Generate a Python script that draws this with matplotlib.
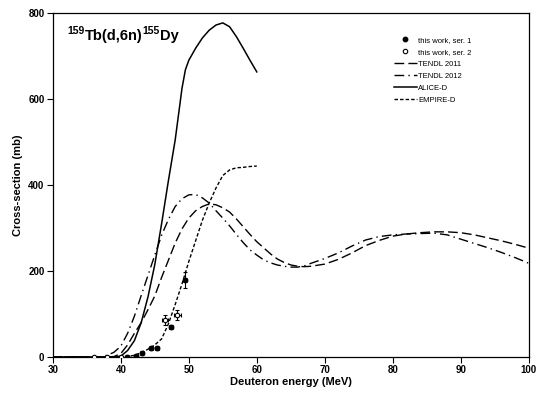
import matplotlib
matplotlib.use("Agg")
import matplotlib.pyplot as plt
from matplotlib.lines import Line2D
from matplotlib.transforms import offset_copy
import numpy as np

plt.rcParams['font.family'] = ['Liberation Sans', 'DejaVu Sans']
plt.rcParams['font.weight'] = 'bold'

# Experimental data
ser1_E = [40.9, 42.2, 43.1, 44.5, 45.3, 47.35, 49.4]
ser1_s = [0.5, 3, 10, 20, 20, 70, 179]
ser1_dE = [0.3, 0.3, 0.3, 0.3, 0.3, 0.3, 0.3]
ser1_ds = [1, 1, 2, 3, 3, 5, 19]

ser2_E = [36.0, 38.0, 40.0, 46.5, 48.3]
ser2_s = [0, 0, 0, 86, 98]
ser2_dE = [0, 0, 0, 0.5, 0.5]
ser2_ds = [0, 0, 0, 11, 12]

# Model curves
t11_E = [30, 38, 39, 40, 41, 42, 43, 44, 45, 46, 47, 48, 49, 50, 51, 52, 53, 54, 55, 56, 57, 58, 59, 60,
         61, 62, 63, 64, 65, 66, 67, 68, 70, 72, 74, 76, 78, 80, 82, 84, 86, 88, 90, 92, 94, 96, 98, 100]
t11_s = [0, 0, 1, 8, 28, 55, 80, 110, 142, 185, 225, 265, 298, 323, 340, 350, 356, 354, 347, 337, 321, 303,
         285, 268, 254, 240, 228, 220, 214, 211, 210, 211, 216, 227, 242, 259, 271, 281, 286, 289, 291, 291,
         289, 284, 277, 270, 262, 253]

t12_E = [30, 37, 38, 39, 40, 41, 42, 43, 44, 45, 46, 47, 48, 49, 50, 51, 52, 53, 54, 55, 56, 57, 58, 59, 60,
         61, 62, 63, 64, 65, 66, 67, 68, 70, 72, 74, 76, 78, 80, 82, 84, 86, 88, 90, 92, 94, 96, 98, 100]
t12_s = [0, 0, 4, 11, 25, 55, 95, 143, 190, 237, 283, 320, 350, 368, 377, 378, 370, 358, 340, 323, 305, 285,
         266, 249, 237, 226, 219, 214, 211, 209, 209, 212, 218, 229, 242, 258, 272, 280, 284, 286, 287, 288,
         284, 274, 264, 254, 243, 231, 218]

alice_E = [30, 38, 39, 40, 41, 42, 43, 44, 45, 46, 47, 48, 49, 49.5, 50, 51, 52, 53, 54, 55, 56, 57, 58, 59, 60]
alice_s = [0, 0, 0, 2, 15, 38, 80, 140, 215, 310, 410, 505, 625, 668, 690, 718, 742, 760, 772, 777, 768,
           745, 718, 690, 663]

empire_E = [30, 40, 41, 42, 43, 44, 45, 46, 47, 48, 49, 50, 51, 52, 53, 54, 55, 56, 57, 58, 59, 60]
empire_s = [0, 0, 1, 4, 10, 18, 28, 42, 77, 122, 170, 222, 270, 318, 358, 393, 422, 435, 440, 441, 443, 444]

title_parts = [('159', True), ('Tb(d,6n)', False), ('155', True), ('Dy', False)]

fig = plt.figure(figsize=(5.39, 3.94), dpi=100)
ax = fig.add_axes([0.098, 0.094, 0.883, 0.873])

lw = 1.0
l11, = ax.plot(t11_E, t11_s, color='black', lw=lw, dashes=(7, 3), zorder=2)
l12, = ax.plot(t12_E, t12_s, color='black', lw=lw, dashes=(7, 3, 1, 3), zorder=2)
la, = ax.plot(alice_E, alice_s, color='black', lw=1.1, ls='-', zorder=2)
le, = ax.plot(empire_E, empire_s, color='black', lw=lw, dashes=(2.5, 1.5), zorder=2)

ax.errorbar(ser1_E, ser1_s, xerr=ser1_dE, yerr=ser1_ds, fmt='o', color='black', ms=3.2,
            mfc='black', mec='black', elinewidth=0.8, capsize=1.5, capthick=0.8, zorder=4)
ax.errorbar(ser2_E, ser2_s, xerr=ser2_dE, yerr=ser2_ds, fmt='o', color='black', ms=3.2,
            mfc='white', mec='black', mew=0.8, elinewidth=0.8, capsize=1.5, capthick=0.8, zorder=4)

ax.set_xlim(30, 100)
ax.set_ylim(0, 800)
ax.set_xticks([30, 40, 50, 60, 70, 80, 90, 100])
ax.set_yticks([0, 200, 400, 600, 800])
ax.tick_params(axis='both', direction='out', length=4, width=0.8, labelsize=7, pad=2)
for lab in ax.get_xticklabels() + ax.get_yticklabels():
    lab.set_fontweight('bold')
for sp in ax.spines.values():
    sp.set_linewidth(0.9)

ax.set_xlabel('Deuteron energy (MeV)', fontsize=8, fontweight='bold', labelpad=1)
ax.set_ylabel('Cross-section (mb)', fontsize=8, fontweight='bold', labelpad=4)

# Title with superscripts composed piece by piece
renderer = fig.canvas.get_renderer()
x0, y0 = 0.031, 0.922
dx = 0.0
for txt, sup in title_parts:
    tr = offset_copy(ax.transAxes, fig=fig, x=dx, y=(4.0 if sup else 0.0), units='points')
    t = ax.text(x0, y0, txt, transform=tr, fontsize=(7.5 if sup else 10.5), fontweight='bold',
                ha='left', va='baseline')
    w = t.get_window_extent(renderer=renderer).width
    dx += w * 72.0 / fig.dpi

h1 = Line2D([], [], ls='none', marker='o', ms=3.2, mfc='black', mec='black')
h2 = Line2D([], [], ls='none', marker='o', ms=3.2, mfc='white', mec='black', mew=0.8)
leg = ax.legend([h1, h2, l11, l12, la, le],
                ['this work, ser. 1', 'this work, ser. 2', 'TENDL 2011', 'TENDL 2012', 'ALICE-D', 'EMPIRE-D'],
                loc='upper left', bbox_to_anchor=(0.71, 0.94), frameon=False,
                fontsize=5.5, handlelength=3.0, handletextpad=0.2, labelspacing=0.6,
                borderaxespad=0)
for t in leg.get_texts():
    t.set_fontweight('normal')

fig.savefig('out.png', dpi=100)
